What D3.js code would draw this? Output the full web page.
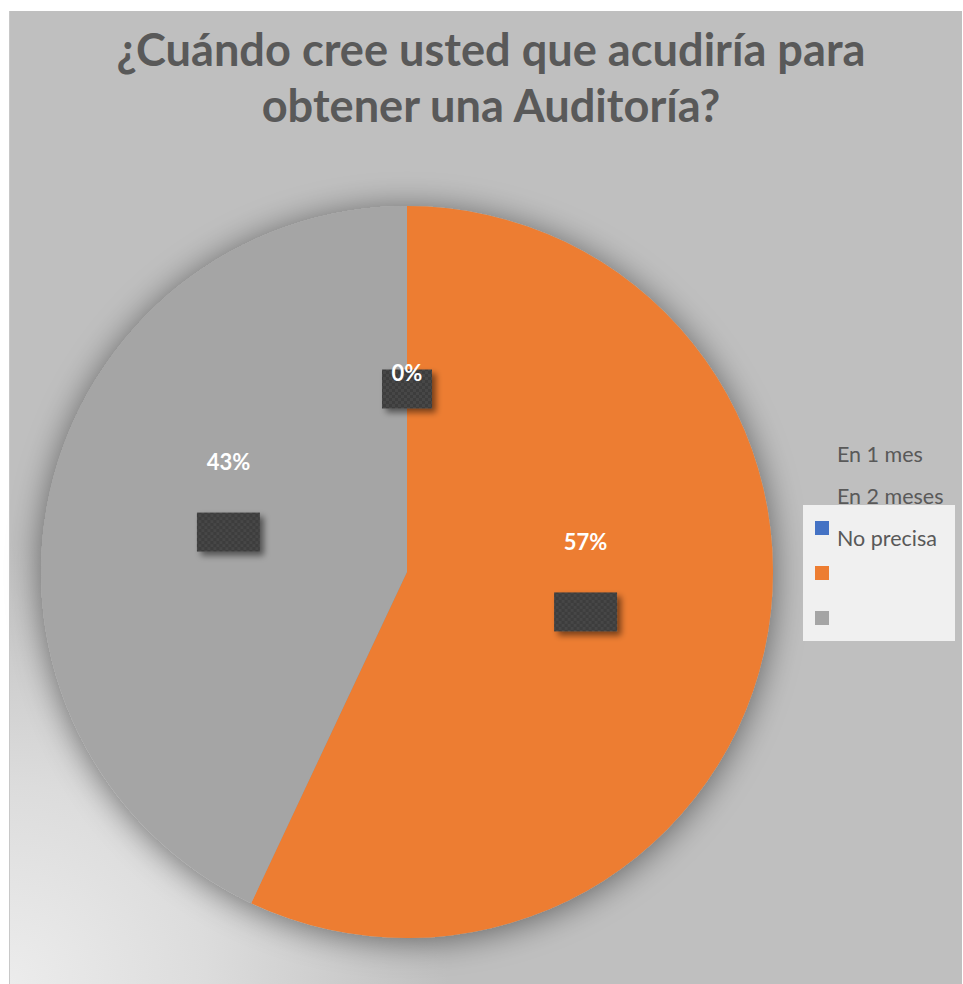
<!DOCTYPE html>
<html>
<head>
<meta charset="utf-8">
<script src="https://cdn.jsdelivr.net/npm/d3@7"></script>
<style>
  body { margin: 0; background: #fff; }
  svg { display: block; }
  text { font-family: Lato, "Open Sans", sans-serif; }
</style>
</head>
<body>
<svg width="963" height="984"></svg>
<script>
var svg = d3.select("svg"),
    width = +svg.attr("width"),
    height = +svg.attr("height");

// data
var categories = ["En 1 mes", "En 2 meses", "No precisa"];
var values = [0, 57, 43];
var labels = ["0%", "57%", "43%"];
var colors = ["#4472c4", "#ed7d31", "#a5a5a5"];
var titleLines = ["¿Cuándo cree usted que acudiría para", "obtener una Auditoría?"];

var data = categories.map(function(c, i) {
    return { name: c, value: values[i], label: labels[i], color: colors[i] };
});

var cx = 407, cy = 572, r = 366;

var defs = svg.append("defs");

var rg = defs.append("radialGradient")
    .attr("id", "bgGlow")
    .attr("gradientUnits", "userSpaceOnUse")
    .attr("cx", 9).attr("cy", 984).attr("r", 440);
rg.append("stop").attr("offset", "0%").attr("stop-color", "#ececec");
rg.append("stop").attr("offset", "45%").attr("stop-color", "#dcdcdc");
rg.append("stop").attr("offset", "100%").attr("stop-color", "#bfbfbf");

var sh = defs.append("filter").attr("id", "pieShadow")
    .attr("x", "-20%").attr("y", "-20%").attr("width", "140%").attr("height", "140%");
sh.append("feGaussianBlur").attr("in", "SourceAlpha").attr("stdDeviation", 17).attr("result", "b");
sh.append("feOffset").attr("in", "b").attr("dx", 0).attr("dy", 3).attr("result", "o");
sh.append("feComponentTransfer").attr("in", "o").attr("result", "s")
  .append("feFuncA").attr("type", "linear").attr("slope", 0.5);
var m = sh.append("feMerge");
m.append("feMergeNode").attr("in", "s");
m.append("feMergeNode").attr("in", "SourceGraphic");

var bs = defs.append("filter").attr("id", "boxShadow")
    .attr("x", "-30%").attr("y", "-30%").attr("width", "170%").attr("height", "180%");
bs.append("feGaussianBlur").attr("in", "SourceAlpha").attr("stdDeviation", 3).attr("result", "b");
bs.append("feOffset").attr("in", "b").attr("dx", 4).attr("dy", 4).attr("result", "o");
bs.append("feComponentTransfer").attr("in", "o").attr("result", "s")
  .append("feFuncA").attr("type", "linear").attr("slope", 0.5);
var m2 = bs.append("feMerge");
m2.append("feMergeNode").attr("in", "s");
m2.append("feMergeNode").attr("in", "SourceGraphic");

var pat = defs.append("pattern").attr("id", "weave")
    .attr("patternUnits", "userSpaceOnUse").attr("width", 6).attr("height", 6);
pat.append("rect").attr("width", 6).attr("height", 6).attr("fill", "#3d3d3d");
pat.append("rect").attr("width", 3).attr("height", 3).attr("fill", "#464646");
pat.append("rect").attr("x", 3).attr("y", 3).attr("width", 3).attr("height", 3).attr("fill", "#464646");

// chart area
svg.append("rect")
    .attr("x", 9).attr("y", 11)
    .attr("width", 953).attr("height", height - 11)
    .attr("fill", "url(#bgGlow)");
svg.append("line")
    .attr("x1", 9.5).attr("x2", 9.5).attr("y1", 11).attr("y2", height)
    .attr("stroke", "#c8c8c8");

// title
var title = svg.append("g").attr("fill", "#595959").attr("font-weight", "bold");
title.selectAll("text")
    .data(titleLines)
    .enter().append("text")
    .attr("x", 491)
    .attr("y", function(d, i) { return 66 + i * 56; })
    .attr("text-anchor", "middle")
    .attr("font-size", 40)
    .text(function(d) { return d; });
var w0 = title.select("text").node().getComputedTextLength();
title.selectAll("text").attr("font-size", 40 * 749 / w0);

// pie
var pie = d3.pie().sort(null).value(function(d) { return d.value; });
var arc = d3.arc().innerRadius(0).outerRadius(r);
var labelArc = d3.arc().innerRadius(r * 0.5).outerRadius(r * 0.5);

var g = svg.append("g").attr("transform", "translate(" + cx + "," + cy + ")");
g.append("g").attr("filter", "url(#pieShadow)")
    .selectAll("path")
    .data(pie(data))
    .enter().append("path")
    .attr("d", arc)
    .attr("fill", function(d) { return d.data.color; });

// data labels: textured box at the centroid, value text above it
var textLift = [16, 70, 70];
var lab = g.selectAll(".lab")
    .data(pie(data))
    .enter().append("g")
    .attr("class", "lab")
    .attr("transform", function(d) {
        var c = labelArc.centroid(d);
        return "translate(" + c[0] + "," + c[1] + ")";
    });

lab.append("rect")
    .attr("filter", "url(#boxShadow)")
    .attr("fill", "url(#weave)")
    .attr("y", -19.5)
    .attr("height", 39);

lab.append("text")
    .attr("text-anchor", "middle")
    .attr("fill", "#fff")
    .attr("font-weight", "bold")
    .attr("font-size", 22)
    .attr("y", function(d, i) { return -textLift[i] + 8; })
    .text(function(d) { return d.data.label; });

lab.each(function() {
    var t = d3.select(this).select("text").node().getComputedTextLength();
    var w = Math.round(t + 19);
    d3.select(this).select("rect").attr("x", -w / 2).attr("width", w);
});

// legend
var lg = svg.append("g");
lg.append("rect")
    .attr("x", 803).attr("y", 505)
    .attr("width", 152).attr("height", 136)
    .attr("fill", "#f0f0f0");

lg.selectAll(".mk")
    .data(data)
    .enter().append("rect")
    .attr("class", "mk")
    .attr("x", 815)
    .attr("y", function(d, i) { return 521 + i * 45; })
    .attr("width", 14).attr("height", 14)
    .attr("fill", function(d) { return d.color; });

lg.selectAll(".lt")
    .data(data)
    .enter().append("text")
    .attr("class", "lt")
    .attr("x", 837)
    .attr("y", function(d, i) { return 462 + i * 42; })
    .attr("fill", "#595959")
    .attr("font-size", 19)
    .text(function(d) { return d.name; });
var lw = lg.selectAll(".lt").filter(function(d, i) { return i === 2; }).node().getComputedTextLength();
lg.selectAll(".lt").attr("font-size", 19 * 100 / lw);
</script>
</body>
</html>
